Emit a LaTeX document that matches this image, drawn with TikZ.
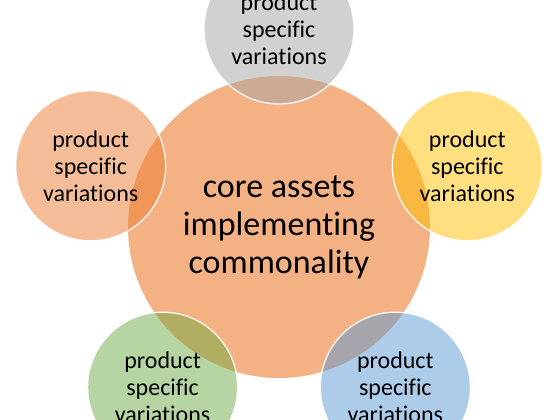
\documentclass[tikz,border=0pt]{standalone}
\usepackage{fontspec}
\setmainfont{Carlito}[Ligatures={NoCommon}]
\usetikzlibrary{calc}
\definecolor{corecol}{HTML}{ED7D31}
\definecolor{graycol}{HTML}{A5A5A5}
\definecolor{yellowcol}{HTML}{FFC000}
\definecolor{greencol}{HTML}{70AD47}
\definecolor{bluecol}{HTML}{5B9BD5}
\begin{document}
\begin{tikzpicture}[x=1pt,y=1pt,
  corecircle/.style={circle, minimum size=302pt, inner sep=0pt, fill=corecol, fill opacity=0.6, draw=none},
  outercircle/.style={circle, minimum size=150pt, inner sep=0pt, fill opacity=0.5, draw=white, draw opacity=1, line width=1.2pt},
  coretext/.style={align=center, font=\fontsize{34}{38}\selectfont, text=black},
  outertext/.style={align=center, font=\fontsize{24}{27}\selectfont, text=black}]
\useasboundingbox (0,0) rectangle (560,420);
\clip (0,0) rectangle (560,420);
\fill[white] (0,0) rectangle (560,420);
\coordinate (c) at (279,193);
\node[corecircle] (core) at (c) {};
\node[outercircle, fill=graycol] (top) at ($(c)+(90:198)$) {};
\node[outercircle, fill=yellowcol] (right) at ($(c)+(18:198)$) {};
\node[outercircle, fill=bluecol] (bright) at ($(c)+(-54:198)$) {};
\node[outercircle, fill=greencol] (bleft) at ($(c)+(234:198)$) {};
\node[outercircle, fill=corecol] (left) at ($(c)+(162:198)$) {};
\node[coretext] (coret) at (c) {core assets\\implementing\\commonality};
\node[outertext] (topt) at (top) {product\\specific\\variations};
\node[outertext] (rightt) at (right) {product\\specific\\variations};
\node[outertext] (brightt) at (bright) {product\\specific\\variations};
\node[outertext] (bleftt) at (bleft) {product\\specific\\variations};
\node[outertext] (leftt) at (left) {product\\specific\\variations};
\end{tikzpicture}
\end{document}
